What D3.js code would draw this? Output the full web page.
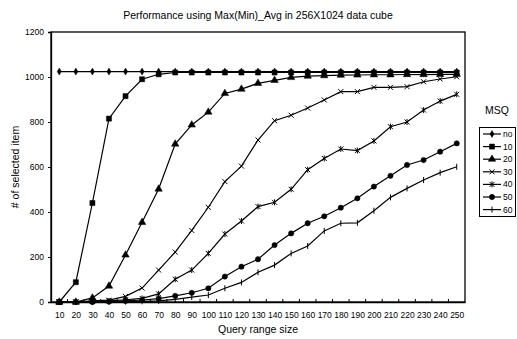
<!doctype html>
<html>
<head>
<style>
    body { margin: 0; background: #fff; }
    text { font-family: "Liberation Sans", Arial, sans-serif; fill: #000; }
</style>
</head>
<body>
<div id="container"></div>
<script src="https://d3js.org/d3.v7.min.js"></script>
<script type="text/javascript">

    var querySizes = [10, 20, 30, 40, 50, 60, 70, 80, 90, 100, 110, 120, 130, 140, 150, 160, 170, 180, 190, 200, 210, 220, 230, 240, 250];
    var seriesNames = ["no", "10", "20", "30", "40", "50", "60"];
    var yTicks = [0, 200, 400, 600, 800, 1000, 1200];

    var msqNo = [1024, 1024, 1024, 1024, 1024, 1024, 1024, 1024, 1024, 1024, 1024, 1024, 1024, 1024, 1024, 1024, 1024, 1024, 1024, 1024, 1024, 1024, 1024, 1024, 1024];
    var msq10 = [0, 88, 440, 815, 915, 990, 1012, 1020, 1020, 1020, 1020, 1020, 1020, 1020, 1020, 1020, 1020, 1020, 1020, 1020, 1020, 1020, 1020, 1020, 1020];
    var msq20 = [0, 0, 18, 71, 209, 354, 502, 702, 787, 844, 927, 946, 972, 985, 998, 1004, 1006, 1008, 1009, 1010, 1010, 1011, 1011, 1012, 1012];
    var msq30 = [0, 0, 5, 8, 25, 62, 142, 222, 318, 421, 535, 604, 720, 806, 830, 862, 898, 935, 935, 954, 954, 957, 979, 991, 1001];
    var msq40 = [0, 0, 3, 5, 10, 16, 36, 101, 142, 216, 302, 360, 424, 443, 501, 588, 638, 680, 673, 716, 779, 800, 853, 893, 923];
    var msq50 = [0, 0, 0, 2, 5, 9, 15, 27, 41, 61, 113, 157, 190, 253, 305, 350, 381, 419, 461, 513, 561, 609, 631, 668, 705];
    var msq60 = [0, 0, 0, 0, 2, 3, 5, 12, 22, 31, 61, 87, 132, 164, 216, 249, 316, 350, 352, 406, 465, 505, 542, 575, 601];

    var allSeries = [msqNo, msq10, msq20, msq30, msq40, msq50, msq60];

    var width = 517, height = 339;
    var margin = {top: 32, right: 52, bottom: 37, left: 51};
    var innerwidth = width - margin.left - margin.right,
        innerheight = height - margin.top - margin.bottom;

    // marker shapes, one per series
    function marker(i) {
        var cross = "M-2.5,-2.5L2.5,2.5M-2.5,2.5L2.5,-2.5";
        switch (i) {
            case 0: return {d: d3.symbol(d3.symbolDiamond, 14)(), fill: true};
            case 1: return {d: d3.symbol(d3.symbolSquare, 26)(), fill: true};
            case 2: return {d: d3.symbol(d3.symbolTriangle, 24)(), fill: true};
            case 3: return {d: cross, fill: false};
            case 4: return {d: cross + "M0,-3L0,3", fill: false};
            case 5: return {d: d3.symbol(d3.symbolCircle, 22)(), fill: true};
            default: return {d: "M0,-3L0,3", fill: false};
        }
    }

    var svg = d3.select("#container").append("svg")
        .attr("width", width)
        .attr("height", height);

    svg.append("text")
        .attr("x", 258)
        .attr("y", 19)
        .attr("text-anchor", "middle")
        .style("font-size", "10.5px")
        .text("Performance using Max(Min)_Avg in 256X1024 data cube");

    var g = svg.append("g")
        .attr("transform", "translate(" + margin.left + "," + margin.top + ")");

    var x_band = d3.scaleBand()
        .domain(querySizes)
        .range([0, innerwidth]);

    var x_scale = d3.scalePoint()
        .domain(querySizes)
        .range([0, innerwidth])
        .padding(0.5);

    var y_scale = d3.scaleLinear()
        .domain([0, 1200])
        .range([innerheight, 0]);

    // frame
    g.append("rect")
        .attr("width", innerwidth)
        .attr("height", innerheight)
        .attr("fill", "none")
        .attr("stroke", "#000")
        .attr("stroke-width", 1.3);

    var y_axis = d3.axisLeft(y_scale)
        .tickValues(yTicks)
        .tickFormat(d3.format("d"))
        .tickSize(3)
        .tickPadding(4);
    var yg = g.append("g").call(y_axis);
    yg.select(".domain").attr("stroke-width", 1.3);
    yg.selectAll("text").style("font-size", "8.5px").style("font-family", "'Liberation Sans', Arial, sans-serif");

    var x_axis = d3.axisBottom(x_scale)
        .tickSize(0)
        .tickPadding(10);
    var xg = g.append("g")
        .attr("transform", "translate(0," + innerheight + ")")
        .call(x_axis);
    xg.select(".domain").attr("stroke-width", 1.3);
    xg.selectAll("text").style("font-size", "8.5px").style("font-family", "'Liberation Sans', Arial, sans-serif");

    // inward tick marks between categories
    g.append("g").selectAll("line")
        .data(querySizes.slice(1))
        .enter().append("line")
        .attr("x1", function (d) { return x_band(d); })
        .attr("x2", function (d) { return x_band(d); })
        .attr("y1", innerheight)
        .attr("y2", innerheight - 3)
        .attr("stroke", "#000");

    svg.append("text")
        .attr("x", margin.left + innerwidth / 2)
        .attr("y", 333)
        .attr("text-anchor", "middle")
        .style("font-size", "10.5px")
        .text("Query range size");

    svg.append("text")
        .attr("transform", "translate(19," + (margin.top + innerheight / 2) + ") rotate(-90)")
        .attr("text-anchor", "middle")
        .style("font-size", "10.5px")
        .text("# of selected item");

    var draw_line = d3.line()
        .x(function (d, i) { return x_scale(querySizes[i]); })
        .y(function (d) { return y_scale(d); });

    var lines = g.selectAll(".series")
        .data(allSeries)
        .enter().append("g")
        .attr("class", "series");

    lines.append("path")
        .attr("d", function (d) { return draw_line(d); })
        .attr("fill", "none")
        .attr("stroke", "#000")
        .attr("stroke-width", 1.2);

    lines.each(function (vals, si) {
        var m = marker(si);
        d3.select(this).selectAll("path.mk")
            .data(vals)
            .enter().append("path")
            .attr("class", "mk")
            .attr("transform", function (d, i) {
                return "translate(" + x_scale(querySizes[i]) + "," + y_scale(d) + ")";
            })
            .attr("d", m.d)
            .attr("fill", m.fill ? "#000" : "none")
            .attr("stroke", "#000")
            .attr("stroke-width", m.fill ? 0.5 : 1);
    });

    // legend
    svg.append("text")
        .attr("x", 497)
        .attr("y", 114)
        .attr("text-anchor", "middle")
        .style("font-size", "10.5px")
        .text("MSQ");

    var legend = svg.append("g");
    legend.append("rect")
        .attr("x", 479.5)
        .attr("y", 127.5)
        .attr("width", 36)
        .attr("height", 89)
        .attr("fill", "#fff")
        .attr("stroke", "#000");

    var items = legend.selectAll(".item")
        .data(seriesNames)
        .enter().append("g")
        .attr("class", "item")
        .attr("transform", function (d, i) { return "translate(0," + (134 + i * 12.6) + ")"; });

    items.append("line")
        .attr("x1", 483)
        .attr("x2", 501)
        .attr("stroke", "#000")
        .attr("stroke-width", 1.2);

    items.append("path")
        .attr("transform", "translate(492,0)")
        .attr("d", function (d, i) { return marker(i).d; })
        .attr("fill", function (d, i) { return marker(i).fill ? "#000" : "none"; })
        .attr("stroke", "#000")
        .attr("stroke-width", function (d, i) { return marker(i).fill ? 0.5 : 1; });

    items.append("text")
        .attr("x", 503)
        .attr("dy", "0.35em")
        .style("font-size", "8.5px")
        .text(function (d) { return d; });

</script>
</body>
</html>
